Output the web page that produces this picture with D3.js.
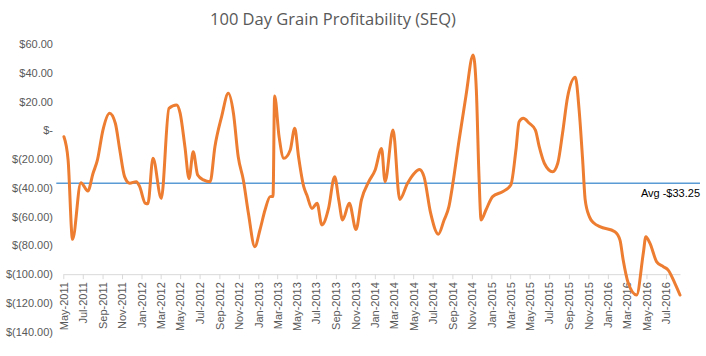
<!DOCTYPE html>
<html><head><meta charset="utf-8">
<script src="https://cdn.jsdelivr.net/npm/d3@7"></script>
<style>
html,body{margin:0;padding:0;background:#fff;}
svg{display:block;}
</style></head>
<body>
<svg id="chart" width="706" height="356"></svg>
<script>
const title = "100 Day Grain Profitability (SEQ)";
const dates = ["2011-05-03","2011-05-16","2011-05-30","2011-06-25","2011-07-17","2011-08-02","2011-08-16","2011-09-02","2011-09-23","2011-10-11","2011-10-25","2011-11-09","2011-11-25","2011-12-16","2011-12-26","2012-01-13","2012-01-21","2012-02-06","2012-03-03","2012-03-27","2012-04-20","2012-05-01","2012-05-16","2012-05-29","2012-06-11","2012-06-25","2012-07-13","2012-08-03","2012-08-18","2012-09-08","2012-09-29","2012-10-15","2012-10-30","2012-11-15","2012-12-01","2012-12-21","2013-01-06","2013-01-22","2013-02-07","2013-02-16","2013-02-21","2013-03-07","2013-03-22","2013-04-11","2013-04-25","2013-05-07","2013-05-23","2013-06-02","2013-06-18","2013-07-04","2013-07-19","2013-08-09","2013-08-28","2013-09-10","2013-09-22","2013-10-13","2013-11-03","2013-11-20","2013-12-13","2014-01-02","2014-01-22","2014-02-02","2014-02-27","2014-03-20","2014-04-13","2014-05-04","2014-05-21","2014-06-04","2014-06-25","2014-07-19","2014-08-06","2014-08-21","2014-09-01","2014-09-22","2014-10-13","2014-11-05","2014-11-15","2014-11-23","2014-11-30","2014-12-15","2015-01-05","2015-02-05","2015-03-03","2015-03-19","2015-03-29","2015-04-11","2015-04-30","2015-05-19","2015-05-31","2015-06-16","2015-07-12","2015-07-28","2015-08-12","2015-08-28","2015-09-21","2015-10-03","2015-10-14","2015-10-22","2015-11-04","2015-11-19","2015-12-07","2016-01-23","2016-02-08","2016-02-18","2016-03-05","2016-03-31","2016-04-21","2016-04-29","2016-05-12","2016-06-02","2016-06-23","2016-07-08","2016-07-29","2016-08-14"];
const values = [-4.5,-20.6,-75.8,-36.4,-42.2,-30,-20.6,0,11.9,4.9,-13.7,-32.2,-36.8,-35.7,-39,-50.7,-51,-19.5,-47.3,15.3,17.6,11.9,-11.4,-33.5,-14.9,-31.1,-34.5,-35.7,-11.4,9.5,25.7,11.9,-18.4,-34.5,-57.8,-80.9,-69.3,-55.4,-46.1,-46,23.8,-4.4,-19.5,-13.7,1.4,-18.4,-39,-45,-54.3,-50.7,-65.8,-54.3,-32.2,-48.4,-62.3,-50.7,-68.9,-48.4,-35.7,-27.6,-12.6,-35.7,0.2,-48.1,-37,-30,-27.2,-32.2,-57.8,-72.2,-62.3,-53.1,-39,-6.7,23.3,52.3,28,-30,-62.3,-55.4,-46.1,-42.7,-38,-13.7,6,8.3,4.9,0.2,-11.4,-22.9,-28.8,-22.9,-2.1,23.3,36.8,14.1,-20.6,-48.4,-60,-64.6,-67,-70.5,-76.3,-90.2,-106.4,-114.5,-85.5,-74,-78.6,-91.4,-94.8,-97.2,-106.4,-114.5];
const avgLinePos = -36.8;
const avgLabel = "Avg -$33.25";
const yTicks = [60,40,20,0,-20,-40,-60,-80,-100,-120,-140];
const xDomain = ["2011-05-01","2016-08-14"];
const xAxisCross = -100;

const parse = d3.timeParse("%Y-%m-%d");
const data = dates.map((d,i)=>({date:parse(d), value:values[i]}));

const svg = d3.select("#chart");
const font = "'Liberation Sans', Arial, sans-serif";

const x = d3.scaleTime().domain(xDomain.map(parse)).range([63.3, 680]);
const y = d3.scaleLinear().domain([-140, 60]).range([331.7, 44]);

// Title
svg.append("text").attr("x", 333).attr("y", 25).attr("text-anchor","middle")
  .attr("font-family","'Open Sans', sans-serif").attr("font-size",16.5).attr("fill","#595959")
  .text(title);

// Y axis labels
const fmt = v => v === 0 ? "$-" : (v < 0 ? "$(" + d3.format(".2f")(-v) + ")" : "$" + d3.format(".2f")(v));
const yAxis = d3.axisLeft(y).tickValues(yTicks).tickFormat(fmt).tickSize(0).tickPadding(0);
const gy = svg.append("g").attr("transform","translate(53,0)").call(yAxis);
gy.select(".domain").remove();
gy.selectAll("text").attr("font-family",font).attr("font-size",11).attr("fill","#595959");

// X axis
const tickDates = d3.timeMonth.every(2).range(parse("2011-05-01"), parse("2016-08-02"));
const xAxis = d3.axisBottom(x).tickValues(tickDates).tickFormat(d3.timeFormat("%b-%Y")).tickSize(5).tickSizeOuter(0);
const gx = svg.append("g").attr("transform",`translate(0,${y(xAxisCross)})`).call(xAxis);
gx.select(".domain").attr("stroke","#d9d9d9").attr("stroke-width",1);
gx.selectAll(".tick line").attr("stroke","#d9d9d9");
gx.selectAll("text").attr("font-family",font).attr("font-size",11).attr("fill","#595959")
  .attr("text-anchor","end").attr("transform","rotate(-90)").attr("x",-8).attr("y",0).attr("dy","0.35em");

// Avg line
svg.append("line").attr("x1", x.range()[0]-7).attr("x2", 700)
  .attr("y1", y(avgLinePos)).attr("y2", y(avgLinePos))
  .attr("stroke","#5B9BD5").attr("stroke-width",1.3);
svg.append("text").attr("x",700).attr("y", y(avgLinePos)+14).attr("text-anchor","end")
  .attr("font-family",font).attr("font-size",11).attr("fill","#000").text(avgLabel);

// Series line
const line = d3.line().x(d=>x(d.date)).y(d=>y(d.value)).curve(d3.curveMonotoneX);
svg.append("path").datum(data).attr("d", line).attr("fill","none")
  .attr("stroke","#ED7D31").attr("stroke-width",3).attr("stroke-linejoin","round").attr("stroke-linecap","round");
</script>
</body></html>
